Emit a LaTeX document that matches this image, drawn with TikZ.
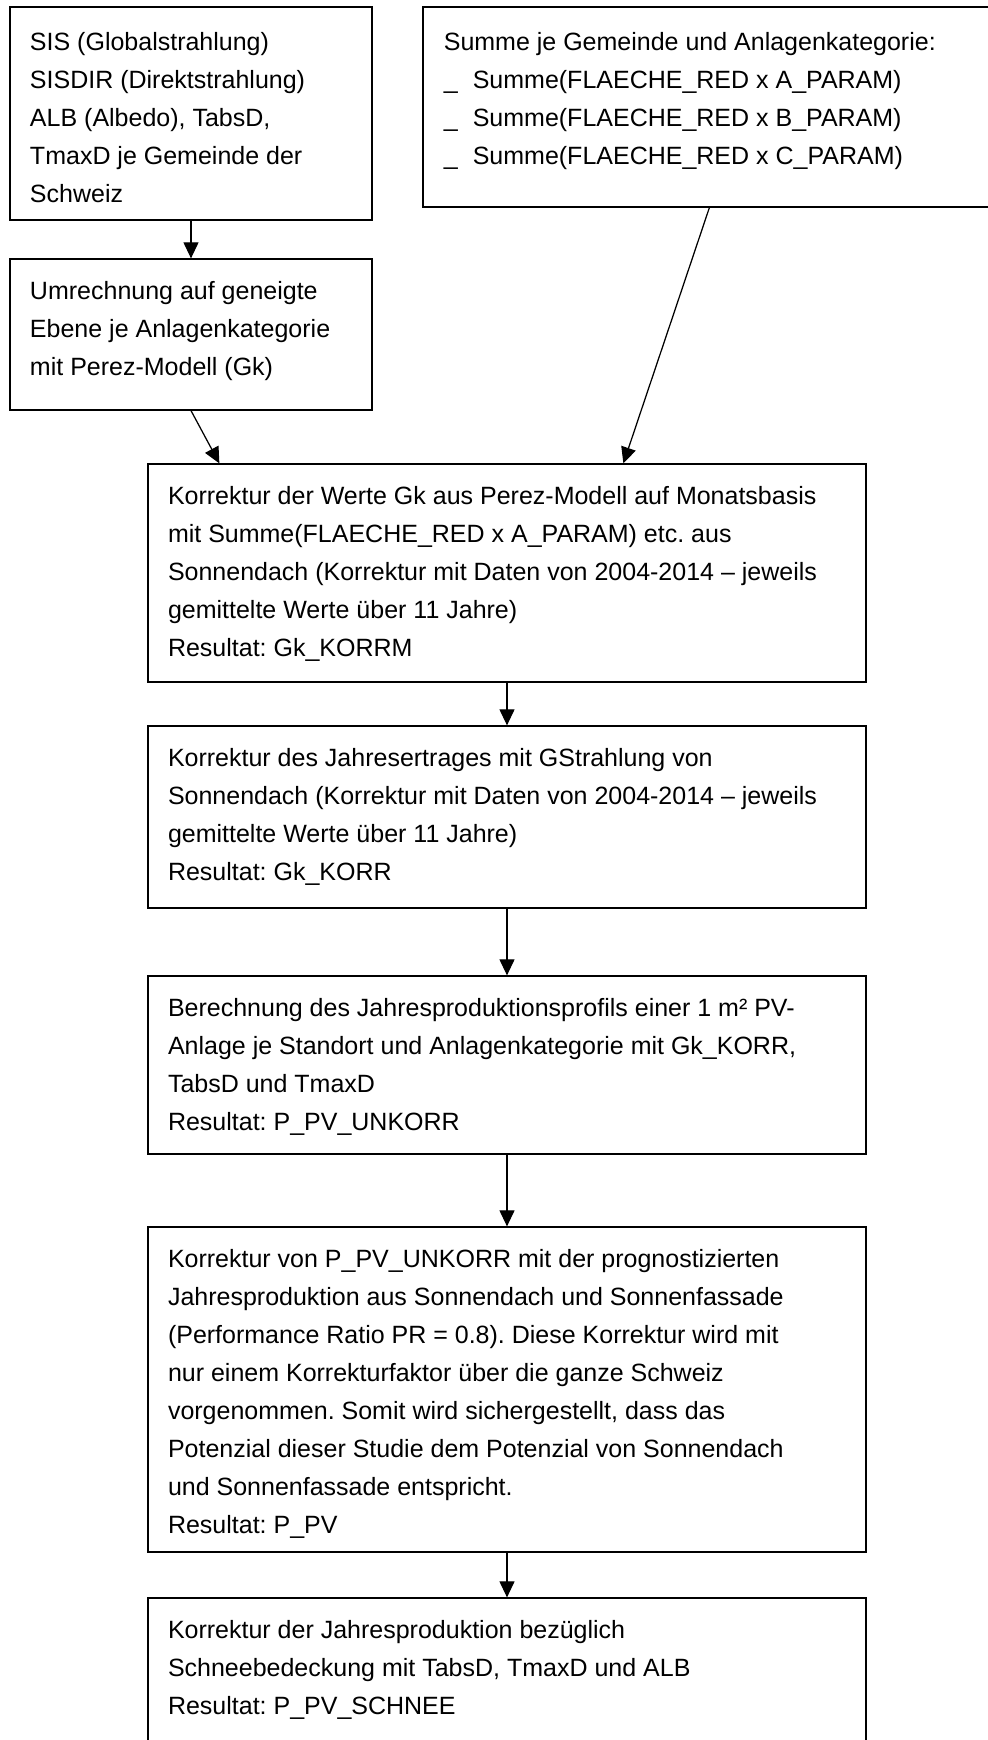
\documentclass[tikz,border=0pt]{standalone}
\usepackage{fontspec}
\setmainfont{Liberation Sans}
\usetikzlibrary{arrows.meta,positioning,calc,fit}
\frenchspacing

\begin{document}
\begin{tikzpicture}[x=0.48pt,y=-0.48pt,>={Triangle[length=7.7pt,width=7.2pt]},line width=0.6pt]
  \tikzstyle{box}=[draw,inner sep=0pt]
  \tikzstyle{txt}=[anchor=north west,inner sep=0pt,align=left,
                   font=\fontsize{12}{18.24}\selectfont]
  \tikzstyle{flow}=[->]
  \useasboundingbox (0,0) rectangle (988,1740);
  \clip (0,0) rectangle (988,1740);

  % Eingangsdaten
  \node [box,fit={(10,7) (372,220)}] (sis) {};
  \node [txt,below right=12.2pt and 9.6pt of sis.north west] (sistxt)
    {SIS (Globalstrahlung)\\SISDIR (Direktstrahlung)\\ALB (Albedo), TabsD,\\TmaxD je Gemeinde der\\Schweiz};
  \node [box,fit={(423,7) (1000,207)}] (summe) {};
  \node [txt,below right=12.2pt and 10pt of summe.north west] (summetxt)
    {Summe je Gemeinde und Anlagenkategorie:\\
     \makebox[13.9pt][l]{\_}Summe(FLAECHE\_RED x A\_PARAM)\\
     \makebox[13.9pt][l]{\_}Summe(FLAECHE\_RED x B\_PARAM)\\
     \makebox[13.9pt][l]{\_}Summe(FLAECHE\_RED x C\_PARAM)};
  \node [box,fit={(10,259) (372,410)}] (umr) {};
  \node [txt,below right=10.6pt and 9.6pt of umr.north west] (umrtxt)
    {Umrechnung auf geneigte\\Ebene je Anlagenkategorie\\mit Perez-Modell (Gk)};

  % Korrekturschritte
  \node [box,fit={(148,464) (866,682)}] (korrm) {};
  \node [txt,below right=10.6pt and 9.6pt of korrm.north west] (korrmtxt)
    {Korrektur der Werte Gk aus Perez-Modell auf Monatsbasis\\mit Summe(FLAECHE\_RED x A\_PARAM) etc. aus\\Sonnendach (Korrektur mit Daten von 2004-2014 – jeweils\\gemittelte Werte über 11 Jahre)\\Resultat: Gk\_KORRM};
  \node [box,fit={(148,726) (866,908)}] (korr) {};
  \node [txt,below right=10.6pt and 9.6pt of korr.north west] (korrtxt)
    {Korrektur des Jahresertrages mit GStrahlung von\\Sonnendach (Korrektur mit Daten von 2004-2014 – jeweils\\gemittelte Werte über 11 Jahre)\\Resultat: Gk\_KORR};
  \node [box,fit={(148,976) (866,1154)}] (berech) {};
  \node [txt,below right=10.6pt and 9.6pt of berech.north west] (berechtxt)
    {Berechnung des Jahresproduktionsprofils einer 1 m² PV-\\Anlage je Standort und Anlagenkategorie mit Gk\_KORR,\\TabsD und TmaxD\\Resultat: P\_PV\_UNKORR};
  \node [box,fit={(148,1227) (866,1552)}] (pv) {};
  \node [txt,below right=10.6pt and 9.6pt of pv.north west] (pvtxt)
    {Korrektur von P\_PV\_UNKORR mit der prognostizierten\\Jahresproduktion aus Sonnendach und Sonnenfassade\\(Performance Ratio PR = 0.8). Diese Korrektur wird mit\\nur einem Korrekturfaktor über die ganze Schweiz\\vorgenommen. Somit wird sichergestellt, dass das\\Potenzial dieser Studie dem Potenzial von Sonnendach\\und Sonnenfassade entspricht.\\Resultat: P\_PV};
  \node [box,fit={(148,1598) (866,1770)}] (schnee) {};
  \node [txt,below right=10.6pt and 9.6pt of schnee.north west] (schneetxt)
    {Korrektur der Jahresproduktion bezüglich\\Schneebedeckung mit TabsD, TmaxD und ALB\\Resultat: P\_PV\_SCHNEE};

  % Pfeile
  \draw [flow] (sis) -- (umr);
  \draw [flow] (umr.south) -- ($(korrm.north west)+(72,0)$);
  \draw [flow] ($(summe.south west)+(287,0)$) -- ($(korrm.north west)+(476,0)$);
  \draw [flow] (korrm) -- (korr);
  \draw [flow] (korr) -- (berech);
  \draw [flow] (berech) -- (pv);
  \draw [flow] (pv) -- (schnee);
\end{tikzpicture}
\end{document}
